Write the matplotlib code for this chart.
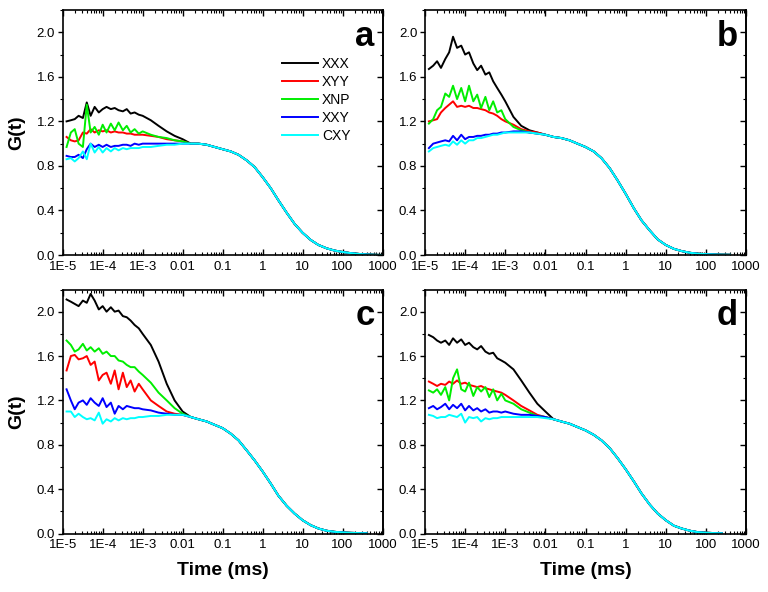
import numpy as np
import matplotlib
matplotlib.use("Agg")
import matplotlib.pyplot as plt
from matplotlib.ticker import FixedLocator, LogLocator, NullFormatter, MultipleLocator

plt.rcParams["font.family"] = ["Liberation Sans", "DejaVu Sans"]

names = ["XXX", "XYY", "XNP", "XXY", "CXY"]
colors = ["#000000", "#ff0000", "#00ee00", "#0000ff", "#00ffff"]

# lag times (ms): noisy head and smooth tail
t_head = [1.25e-5, 1.6e-5, 2e-5, 2.5e-5, 3.2e-5, 4e-5, 5e-5, 6.3e-5, 8e-5, 1e-4,
          1.25e-4, 1.6e-4, 2e-4, 2.5e-4, 3.2e-4, 4e-4, 5e-4, 6.3e-4, 8e-4, 1e-3,
          1.6e-3, 2.5e-3, 4e-3, 6.3e-3, 0.01]
t_tail = [0.016, 0.025, 0.04, 0.063, 0.1, 0.16, 0.25, 0.4, 0.63, 1, 1.6, 2.5, 4, 6.3,
          10, 16, 25, 40, 63, 100, 160, 250, 400, 630, 1000]

nan = np.nan

# panel a
a_xxx = [1.20, 1.21, 1.22, 1.25, 1.23, 1.37, 1.25, 1.33, 1.28, 1.31, 1.33, 1.31, 1.32,
         1.30, 1.29, 1.31, 1.27, 1.28, 1.26, 1.25, 1.21, 1.16, 1.11, 1.07, 1.04]
a_xyy = [1.06, 1.03, 1.02, 1.03, 1.10, 1.09, 1.13, 1.10, 1.12, 1.11, 1.12, 1.10, 1.11,
         1.10, 1.10, 1.09, 1.09, 1.08, 1.08, 1.08, 1.07, 1.06, 1.04, 1.03, 1.02]
a_xnp = [0.97, 1.10, 1.13, 1.00, 0.97, 1.35, 1.10, 1.15, 1.08, 1.17, 1.10, 1.18, 1.12,
         1.19, 1.12, 1.16, 1.10, 1.13, 1.09, 1.11, 1.08, 1.06, 1.05, 1.03, 1.02]
a_xxy = [0.89, 0.88, 0.88, 0.90, 0.87, 0.95, 1.00, 0.97, 0.99, 0.97, 0.99, 0.97, 0.98,
         0.98, 0.99, 0.99, 0.98, 1.00, 0.99, 1.00, 1.00, 1.00, 1.00, 1.00, 1.00]
a_cxy = [0.86, 0.87, 0.84, 0.87, 0.93, 0.86, 1.00, 0.92, 0.97, 0.92, 0.96, 0.93, 0.96,
         0.94, 0.96, 0.95, 0.96, 0.96, 0.96, 0.97, 0.97, 0.98, 0.99, 0.99, 1.00]
a_tail = [1.00, 1.00, 0.99, 0.97, 0.95, 0.93, 0.90, 0.85, 0.79, 0.70, 0.60, 0.49, 0.38,
          0.28, 0.20, 0.135, 0.09, 0.06, 0.04, 0.027, 0.017, 0.01, 0.005, 0.002, 0.0]

# panel b
b_xxx = [1.67, 1.70, 1.74, 1.68, 1.76, 1.82, 1.96, 1.86, 1.88, 1.80, 1.82, 1.72, 1.66,
         1.70, 1.62, 1.64, 1.56, 1.50, 1.44, 1.38, 1.24, 1.16, 1.12, 1.10, 1.08]
b_xyy = [1.20, 1.21, 1.22, 1.28, 1.32, 1.35, 1.38, 1.33, 1.34, 1.33, 1.34, 1.32, 1.32,
         1.31, 1.30, 1.28, 1.27, 1.25, 1.22, 1.20, 1.17, 1.13, 1.11, 1.10, 1.08]
b_xnp = [1.18, 1.22, 1.30, 1.33, 1.45, 1.42, 1.52, 1.40, 1.50, 1.38, 1.52, 1.38, 1.44,
         1.32, 1.42, 1.30, 1.38, 1.28, 1.30, 1.22, 1.15, 1.12, 1.10, 1.09, 1.08]
b_xxy = [0.96, 1.00, 1.01, 1.02, 1.03, 1.02, 1.07, 1.03, 1.08, 1.04, 1.06, 1.06, 1.07,
         1.07, 1.08, 1.08, 1.09, 1.09, 1.10, 1.10, 1.11, 1.11, 1.10, 1.09, 1.08]
b_cxy = [0.93, 0.96, 0.97, 0.98, 0.99, 0.98, 1.02, 0.99, 1.03, 1.00, 1.03, 1.03, 1.05,
         1.05, 1.06, 1.07, 1.08, 1.08, 1.09, 1.10, 1.10, 1.10, 1.10, 1.09, 1.08]
b_tail = [1.06, 1.05, 1.03, 1.00, 0.97, 0.93, 0.87, 0.78, 0.67, 0.55, 0.42, 0.31, 0.22,
          0.14, 0.09, 0.055, 0.035, 0.02, 0.012, 0.008, 0.005, 0.003, 0.002, nan, nan]

# panel c
c_xxx = [2.11, 2.09, 2.07, 2.05, 2.10, 2.08, 2.16, 2.10, 2.02, 2.05, 2.00, 2.04, 2.00,
         2.01, 1.96, 1.95, 1.92, 1.88, 1.85, 1.80, 1.70, 1.55, 1.35, 1.20, 1.10]
c_xyy = [1.47, 1.60, 1.61, 1.57, 1.58, 1.60, 1.52, 1.55, 1.38, 1.43, 1.45, 1.35, 1.47,
         1.30, 1.45, 1.32, 1.38, 1.28, 1.35, 1.30, 1.20, 1.15, 1.10, 1.08, 1.07]
c_xnp = [1.74, 1.70, 1.64, 1.66, 1.71, 1.65, 1.68, 1.64, 1.67, 1.62, 1.64, 1.60, 1.60,
         1.56, 1.55, 1.52, 1.50, 1.50, 1.46, 1.43, 1.36, 1.27, 1.20, 1.13, 1.08]
c_xxy = [1.30, 1.20, 1.12, 1.18, 1.20, 1.16, 1.22, 1.18, 1.15, 1.22, 1.14, 1.18, 1.08,
         1.15, 1.12, 1.15, 1.14, 1.13, 1.13, 1.12, 1.11, 1.09, 1.08, 1.07, 1.07]
c_cxy = [1.10, 1.10, 1.05, 1.08, 1.05, 1.03, 1.04, 1.02, 1.09, 0.99, 1.03, 1.01, 1.04,
         1.02, 1.04, 1.03, 1.04, 1.04, 1.05, 1.05, 1.06, 1.06, 1.07, 1.07, 1.07]
c_tail = [1.05, 1.03, 1.01, 0.98, 0.95, 0.90, 0.84, 0.75, 0.66, 0.56, 0.45, 0.34, 0.25,
          0.18, 0.12, 0.075, 0.045, 0.025, 0.015, 0.01, 0.006, 0.004, 0.002, nan, nan]

# panel d
d_xxx = [1.79, 1.77, 1.74, 1.72, 1.74, 1.70, 1.76, 1.72, 1.75, 1.70, 1.72, 1.68, 1.66,
         1.69, 1.64, 1.62, 1.63, 1.58, 1.56, 1.54, 1.48, 1.38, 1.27, 1.17, 1.10]
d_xyy = [1.37, 1.35, 1.33, 1.35, 1.34, 1.37, 1.35, 1.38, 1.35, 1.36, 1.34, 1.33, 1.32,
         1.33, 1.31, 1.30, 1.29, 1.28, 1.27, 1.25, 1.20, 1.15, 1.11, 1.07, 1.05]
d_xnp = [1.29, 1.27, 1.30, 1.25, 1.32, 1.20, 1.40, 1.48, 1.30, 1.28, 1.36, 1.24, 1.32,
         1.28, 1.32, 1.23, 1.30, 1.20, 1.26, 1.20, 1.17, 1.12, 1.09, 1.06, 1.05]
d_xxy = [1.13, 1.15, 1.12, 1.14, 1.17, 1.12, 1.16, 1.13, 1.17, 1.11, 1.15, 1.11, 1.13,
         1.10, 1.12, 1.09, 1.10, 1.10, 1.09, 1.10, 1.08, 1.07, 1.07, 1.06, 1.05]
d_cxy = [1.07, 1.06, 1.04, 1.05, 1.05, 1.07, 1.06, 1.05, 1.08, 1.00, 1.05, 1.04, 1.05,
         1.01, 1.04, 1.03, 1.04, 1.04, 1.05, 1.05, 1.05, 1.05, 1.05, 1.05, 1.04]
d_tail = [1.03, 1.01, 0.99, 0.96, 0.93, 0.89, 0.84, 0.77, 0.68, 0.58, 0.47, 0.36, 0.26,
          0.18, 0.12, 0.07, 0.045, 0.025, 0.012, 0.007, 0.004, 0.002, nan, nan, nan]

panels = {
    "a": ([a_xxx, a_xyy, a_xnp, a_xxy, a_cxy], a_tail),
    "b": ([b_xxx, b_xyy, b_xnp, b_xxy, b_cxy], b_tail),
    "c": ([c_xxx, c_xyy, c_xnp, c_xxy, c_cxy], c_tail),
    "d": ([d_xxx, d_xyy, d_xnp, d_xxy, d_cxy], d_tail),
}

xticks = [1e-5, 1e-4, 1e-3, 1e-2, 1e-1, 1, 10, 100, 1000]
xticklabels = ["1E-5", "1E-4", "1E-3", "0.01", "0.1", "1", "10", "100", "1000"]

fig = plt.figure(figsize=(7.68, 5.92), dpi=100)
W, H = 768.0, 592.0
rects = {
    "a": (62.7, 10, 382.5, 255),
    "b": (425, 10, 746, 255),
    "c": (62.7, 289.5, 382.5, 533.5),
    "d": (425, 289.5, 746, 533.5),
}

t_all = np.array(t_head + t_tail)
for key, (series, tail) in panels.items():
    x0, y0, x1, y1 = rects[key]
    ax = fig.add_axes([x0 / W, 1 - y1 / H, (x1 - x0) / W, (y1 - y0) / H])
    for vals, name, col in zip(series, names, colors):
        g = np.array(vals + tail, dtype=float)
        ax.plot(t_all, g, color=col, lw=1.4, label=name)
    ax.set_xscale("log")
    ax.set_xlim(1e-5, 1000)
    ax.set_ylim(0, 2.2)
    ax.xaxis.set_major_locator(FixedLocator(xticks))
    ax.set_xticklabels(xticklabels)
    ax.xaxis.set_minor_locator(LogLocator(base=10, subs=np.arange(2, 10), numticks=20))
    ax.xaxis.set_minor_formatter(NullFormatter())
    ax.yaxis.set_major_locator(MultipleLocator(0.4))
    ax.yaxis.set_minor_locator(MultipleLocator(0.2))
    ax.yaxis.set_major_formatter(plt.FuncFormatter(lambda v, p: f"{v:.1f}"))
    ax.tick_params(axis="x", which="both", direction="in", top=True, labelsize=9.5, pad=4)
    ax.tick_params(axis="x", which="major", length=4, width=1)
    ax.tick_params(axis="x", which="minor", length=2.5, width=0.8)
    ax.tick_params(axis="y", which="both", direction="out", labelsize=9.5, pad=2)
    ax.tick_params(axis="y", which="major", length=3.5, width=1)
    ax.tick_params(axis="y", which="minor", length=2, width=0.8)
    sec = ax.secondary_yaxis("right")
    sec.yaxis.set_major_locator(MultipleLocator(0.4))
    sec.yaxis.set_minor_locator(MultipleLocator(0.2))
    sec.tick_params(which="both", direction="in", labelright=False)
    sec.tick_params(which="major", length=4, width=1)
    sec.tick_params(which="minor", length=2.5, width=0.8)
    sec.spines["right"].set_linewidth(1.2)
    for s in ax.spines.values():
        s.set_linewidth(1.2)
    ax.text(0.975, 0.855, key, transform=ax.transAxes, ha="right", va="baseline",
            fontsize=25, fontweight="bold")
    if key in ("a", "c"):
        ax.set_ylabel("G(t)", fontsize=14, fontweight="bold", labelpad=8)
    if key in ("c", "d"):
        ax.set_xlabel("Time (ms)", fontsize=14, fontweight="bold", labelpad=8)
    if key == "a":
        ax.legend(loc="upper left", bbox_to_anchor=(0.685, 0.81), frameon=False,
                  fontsize=10, handlelength=2.6, handletextpad=0.3,
                  labelspacing=0.3, borderpad=0, borderaxespad=0)

fig.savefig("out.png", dpi=100)
